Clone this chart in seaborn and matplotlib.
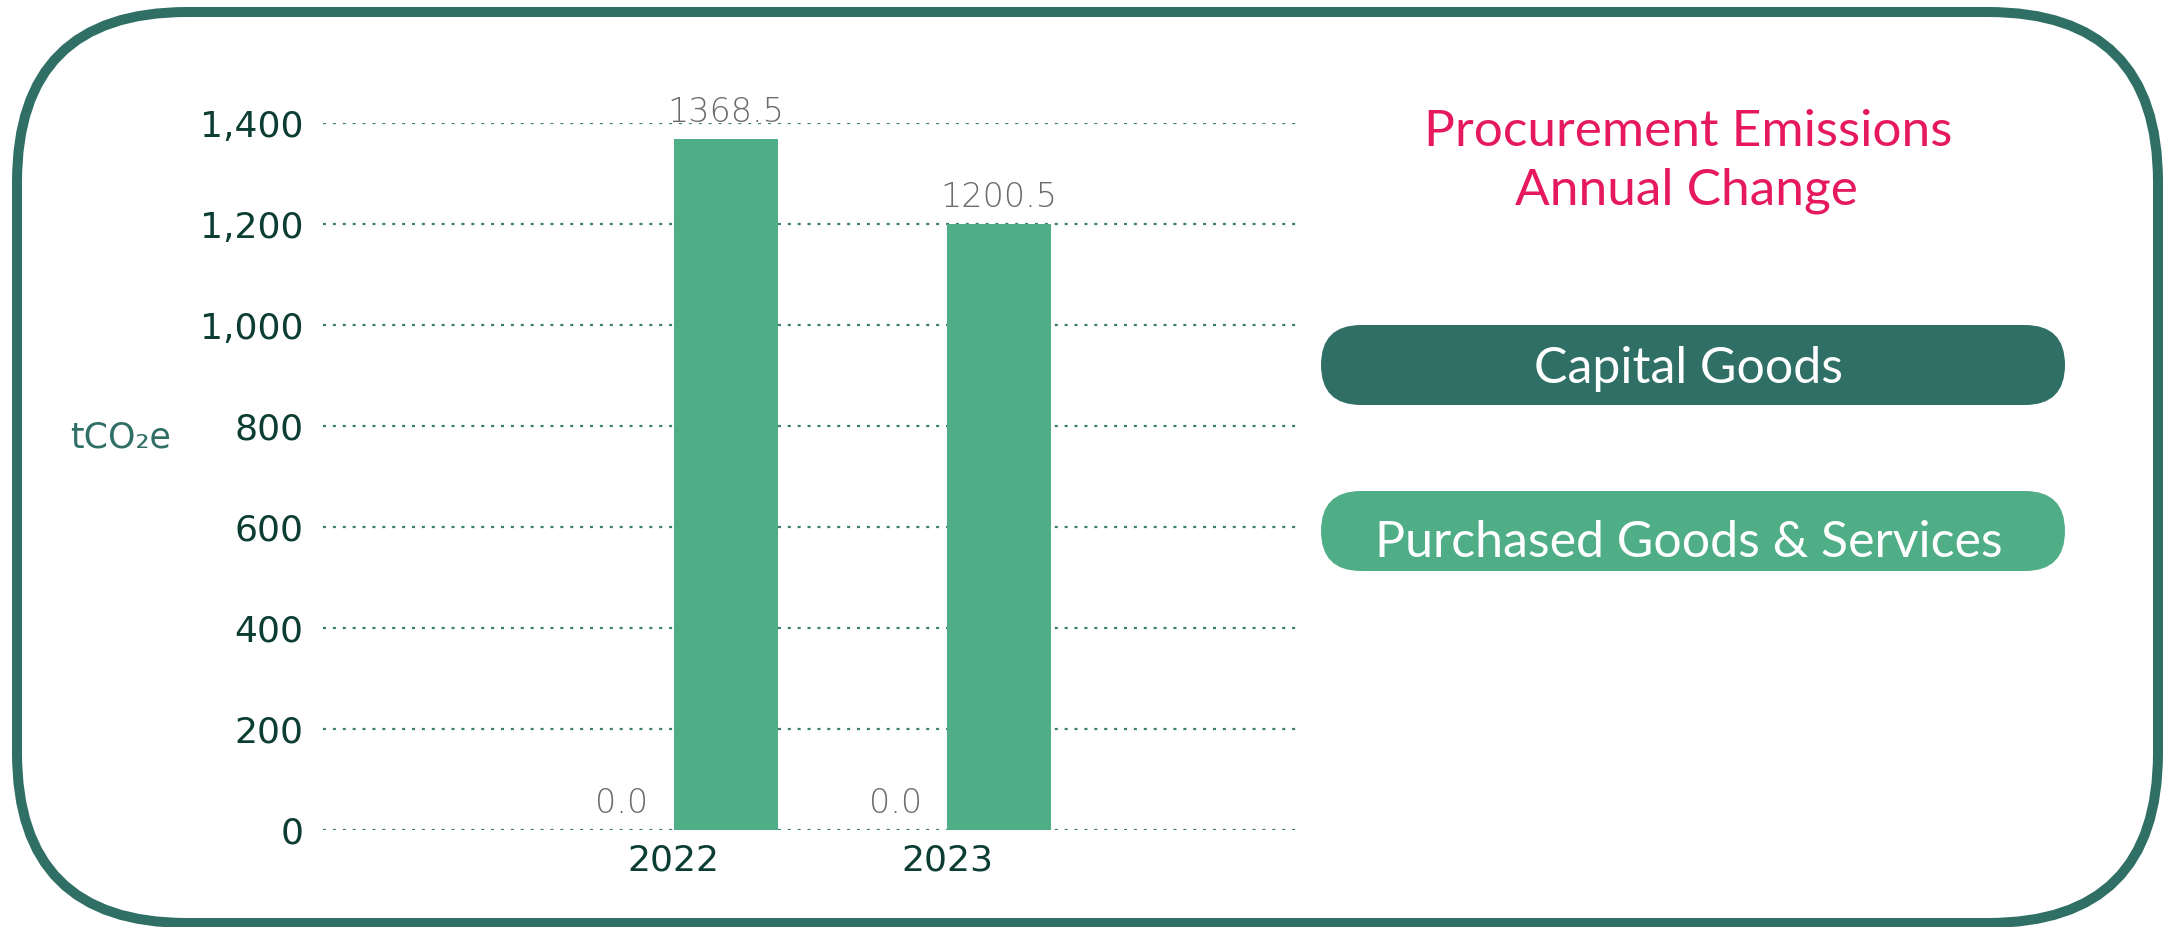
"""
Procurement emissions annual change: grouped bars with pill legend in a rounded frame.
"""

import pandas as pd
import matplotlib.pyplot as plt
from matplotlib.patches import FancyBboxPatch
from matplotlib.ticker import FuncFormatter
import seaborn as sns

years = ["2022", "2023"]
categories = ["Capital Goods", "Purchased Goods & Services"]
capital_goods = [0.0, 0.0]
purchased_goods = [1368.5, 1200.5]
y_ticks = [0, 200, 400, 600, 800, 1000, 1200, 1400]

DARK = "#2f6f66"
LIGHT = "#50ae87"
PINK = "#e6195e"
TICK_COL = "#0b3d33"
VALUE_COL = "#6b6b6b"

df = pd.DataFrame({
    "year": years * 2,
    "category": [categories[0]] * 2 + [categories[1]] * 2,
    "value": capital_goods + purchased_goods,
})

sns.set_style("white")
plt.rcParams["font.family"] = ["DejaVu Sans"]

W, H = 2166, 927
fig = plt.figure(figsize=(W / 100, H / 100), dpi=100)

# background layer in pixel units: frame, title, legend pills
bg = fig.add_axes([0, 0, 1, 1])
bg.set_xlim(0, W)
bg.set_ylim(H, 0)
bg.set_axis_off()

frame = FancyBboxPatch((17, 12), 2158 - 17, 923 - 12,
                       boxstyle="round,pad=0,rounding_size=170",
                       fill=False, ec=DARK, lw=7.2, clip_on=False)
bg.add_patch(frame)

title_font = dict(family=["Lato", "DejaVu Sans"], fontsize=37, color=PINK, ha="center", va="baseline")
bg.text(1688, 146, "Procurement Emissions", **title_font)
bg.text(1686, 204, "Annual Change", **title_font)

pill_font = dict(family=["Lato", "DejaVu Sans"], fontweight="normal", fontsize=36,
                 color="white", ha="center", va="baseline")
for (top, colour, label, base) in [(325, DARK, categories[0], 383), (491, LIGHT, categories[1], 557)]:
    bg.add_patch(FancyBboxPatch((1321, top), 744, 80,
                                boxstyle="round,pad=0,rounding_size=40",
                                fc=colour, ec="none"))
    bg.text(1689, base, label, **pill_font)

# chart
ax = fig.add_axes([323 / W, 1 - 830 / H, (1298 - 323) / W, (830 - 123.3) / H])
ax.patch.set_alpha(0)

sns.barplot(data=df, x="year", y="value", hue="category", hue_order=categories,
            palette=[DARK, LIGHT], width=0.76, saturation=1, linewidth=0,
            legend=False, ax=ax, zorder=3)

for cont in ax.containers:
    ax.bar_label(cont, fmt="%.1f", padding=7, fontsize=24, color=VALUE_COL,
                 fontweight="light", clip_on=False)

ax.set_xlim(-1.282, 2.282)
ax.set_ylim(0, 1400)
ax.set_yticks(y_ticks)
ax.yaxis.set_major_formatter(FuncFormatter(lambda v, _: f"{int(v):,}"))

ax.grid(axis="y", color="#3b7d72", lw=1.6, ls=(0, (1.35, 3.1)), zorder=0)
ax.grid(axis="x", visible=False)
ax.set_axisbelow(True)
for s in ax.spines.values():
    s.set_visible(False)

ax.tick_params(axis="y", length=0, pad=14, labelsize=26, labelcolor=TICK_COL)
ax.tick_params(axis="x", length=0, pad=10, labelsize=26, labelcolor=TICK_COL)

ax.set_xlabel("")
ax.set_ylabel("tCO\u2082e", rotation=0, fontsize=25, color=DARK, ha="center", va="center")
ax.yaxis.set_label_coords(-0.208, 0.556)

fig.savefig("out.png", dpi=100)
